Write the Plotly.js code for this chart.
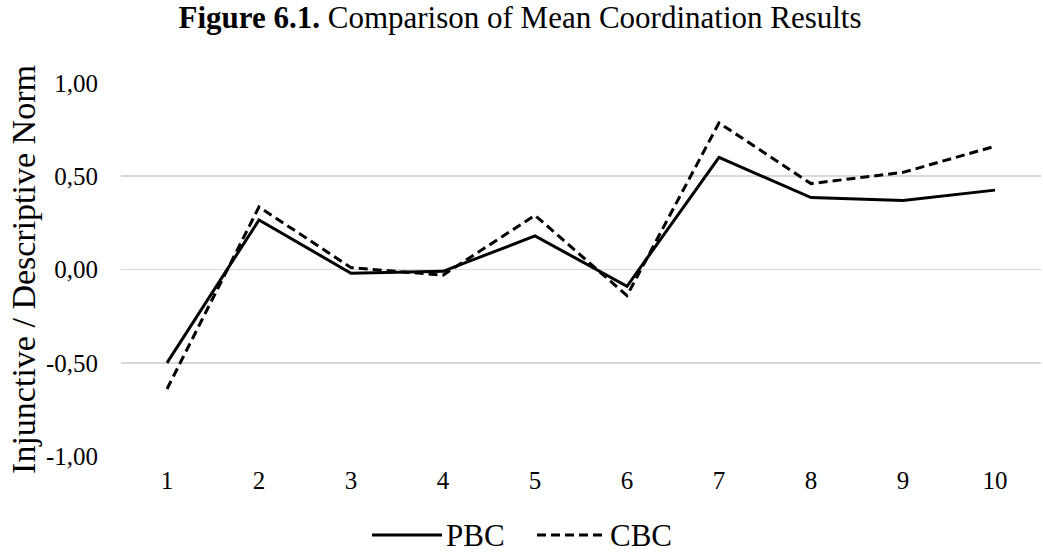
<!DOCTYPE html>
<html>
<head>
<meta charset="utf-8">
<script src="https://cdn.plot.ly/plotly-3.0.1.min.js"></script>
<style>
  html, body { margin: 0; padding: 0; background: #fff; }
  #chart { width: 1043px; height: 555px; }
</style>
</head>
<body>
<div id="chart"></div>
<script>
// Rounds 1–10 of the coordination task
const rounds = ['1', '2', '3', '4', '5', '6', '7', '8', '9', '10'];

// Mean injunctive / descriptive norm per round
const pbc = [-0.50, 0.265, -0.02, -0.01, 0.18, -0.09, 0.60, 0.385, 0.37, 0.425];
const cbc = [-0.64, 0.335, 0.01, -0.03, 0.29, -0.14, 0.785, 0.46, 0.52, 0.66];

// Y tick values and their comma-decimal labels
const yTickVals = [-1, -0.5, 0, 0.5, 1];
const yTickText = ['-1,00', '-0,50', '0,00', '0,50', '1,00'];

const FONT = 'Liberation Serif, Times New Roman, serif';
const INK = '#000000';
const GRID = '#d9d9d9';
const solidLine = { color: INK, width: 3 };
const dashedLine = { color: INK, width: 3, dash: '9px,5px' };

const traces = [
  { x: rounds, y: pbc, name: 'PBC', type: 'scatter', mode: 'lines', line: solidLine },
  { x: rounds, y: cbc, name: 'CBC', type: 'scatter', mode: 'lines', line: dashedLine }
];

// Plot box in pixels, used to place the legend keys below it
const box = { left: 121, right: 1041, top: 82, bottom: 457 };
const px = v => (v - box.left) / (box.right - box.left);
const py = v => (box.bottom - v) / (box.bottom - box.top);

// Legend keys drawn below the plot with long line samples
const legendKeys = [
  { label: 'PBC', line: solidLine, x0: 372, x1: 442, tx: 444 },
  { label: 'CBC', line: dashedLine, x0: 537, x1: 607, tx: 608 }
];
const legendY = 535;

const shapes = legendKeys.map(k => ({
  type: 'line', xref: 'paper', yref: 'paper',
  x0: px(k.x0), x1: px(k.x1), y0: py(legendY), y1: py(legendY),
  line: k.line
}));
const annotations = legendKeys.map(k => ({
  text: k.label, xref: 'paper', yref: 'paper',
  x: px(k.tx), y: py(legendY),
  xanchor: 'left', yanchor: 'middle', showarrow: false,
  font: { family: FONT, size: 31, color: INK }
}));

const layout = {
  width: 1043,
  height: 555,
  margin: { l: box.left, r: 1043 - box.right, t: box.top, b: 555 - box.bottom },
  paper_bgcolor: '#ffffff',
  plot_bgcolor: '#ffffff',
  font: { family: FONT, color: INK, size: 25 },
  showlegend: false,
  title: {
    text: '<b>Figure 6.1.</b> Comparison of Mean Coordination Results',
    font: { family: FONT, size: 31, color: INK },
    x: 520 / 1043, xanchor: 'center',
    y: 1 - 17 / 555, yanchor: 'middle'
  },
  xaxis: {
    type: 'category',
    range: [-0.5, 9.5],
    showgrid: false,
    zeroline: false,
    showline: false,
    ticks: '',
    ticklabelstandoff: 6,
    tickfont: { family: FONT, size: 25, color: INK },
    fixedrange: true
  },
  yaxis: {
    range: [-1.004, 1.004],
    tickvals: yTickVals,
    ticktext: yTickText,
    showgrid: true,
    gridcolor: GRID,
    gridwidth: 1.5,
    zeroline: false,
    showline: false,
    ticks: '',
    ticklabelstandoff: 22,
    tickfont: { family: FONT, size: 25, color: INK },
    title: {
      text: 'Injunctive / Descriptive Norm',
      font: { family: FONT, size: 34, color: INK },
      standoff: 0
    },
    fixedrange: true
  },
  shapes: shapes,
  annotations: annotations
};

Plotly.newPlot('chart', traces, layout, { displayModeBar: false, staticPlot: true });
</script>
</body>
</html>
